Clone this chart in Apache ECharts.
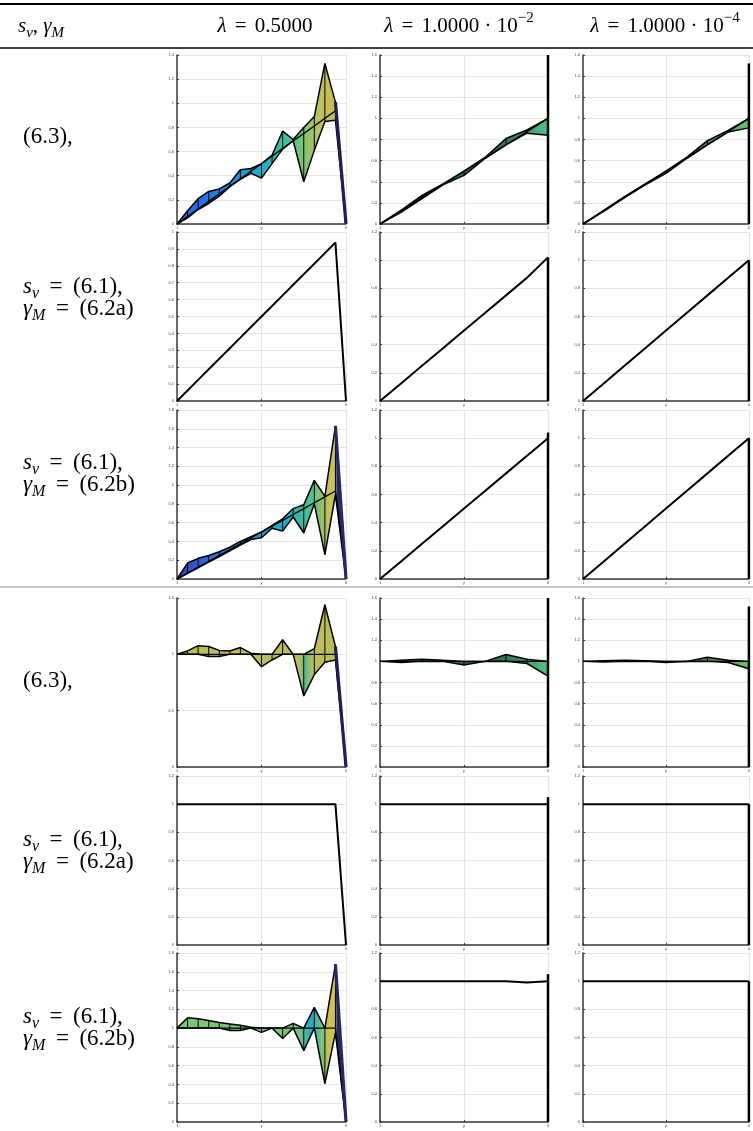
<!DOCTYPE html>
<html>
<head>
<meta charset="utf-8">
<script src="https://cdn.jsdelivr.net/npm/echarts@6/dist/echarts.min.js"></script>
<style>html,body{margin:0;padding:0;background:#fff}#c{width:753px;height:1131px}</style>
</head>
<body>
<div id="c"></div>
<script>
// ---------- data ----------
const xNodes16 = [0,0.0625,0.125,0.1875,0.25,0.3125,0.375,0.4375,0.5,0.5625,0.625,0.6875,0.75,0.8125,0.875,0.9375,1];
const xNodes8 = [0,0.125,0.25,0.375,0.5,0.625,0.75,0.875,1];
const xTickLabels = ['1','y','0'];

// row 1 (6.3) – shape of solution
const r1c1Center = [0,0.0625,0.125,0.1875,0.25,0.3125,0.375,0.4375,0.5,0.5625,0.625,0.6875,0.75,0.8125,0.875,0.9375,0];
const r1c1Upper  = [0,0.11,0.21,0.27,0.29,0.34,0.45,0.46,0.50,0.57,0.77,0.70,0.80,0.89,1.33,1.01,0];
const r1c1Lower  = [0,0.05,0.12,0.17,0.23,0.31,0.37,0.42,0.38,0.50,0.62,0.69,0.35,0.61,0.85,0.86,0];
const r1c2Center = [0,0.125,0.25,0.375,0.5,0.625,0.75,0.875,1];
const r1c2Upper  = [0,0.13,0.27,0.38,0.50,0.63,0.81,0.89,1.00];
const r1c2Lower  = [0,0.11,0.24,0.37,0.46,0.62,0.75,0.86,0.84];
const r1c2Edge   = [0,1.6];
const r1c3Center = [0,0.125,0.25,0.375,0.5,0.625,0.75,0.875,1];
const r1c3Upper  = [0,0.13,0.26,0.38,0.50,0.63,0.79,0.885,1.00];
const r1c3Lower  = [0,0.12,0.25,0.37,0.48,0.62,0.75,0.87,0.91];
const r1c3Edge   = [0,1.52];
// row 2 (6.1),(6.2a)
const r2c1Center = [0,0.0625,0.125,0.1875,0.25,0.3125,0.375,0.4375,0.5,0.5625,0.625,0.6875,0.75,0.8125,0.875,0.9375,0];
const r2c2Center = [0,0.125,0.25,0.375,0.5,0.625,0.75,0.875,1.02];
const r2c2Edge   = [0,1.02];
const r2c3Center = [0,0.125,0.25,0.375,0.5,0.625,0.75,0.875,1.0];
const r2c3Edge   = [0,1.0];
// row 3 (6.1),(6.2b)
const r3c1Center = [0,0.0625,0.125,0.1875,0.25,0.3125,0.375,0.4375,0.5,0.5625,0.625,0.6875,0.75,0.8125,0.875,0.9375,0];
const r3c1Upper  = [0,0.17,0.22,0.25,0.29,0.34,0.40,0.45,0.50,0.57,0.64,0.75,0.79,1.05,0.88,1.63,0];
const r3c1Lower  = [0,0.06,0.12,0.18,0.24,0.30,0.36,0.42,0.44,0.54,0.51,0.66,0.49,0.80,0.26,0.90,0];
const r3c2Center = [0,0.125,0.25,0.375,0.5,0.625,0.75,0.875,1.0];
const r3c2Edge   = [0,1.04];
const r3c3Center = [0,0.125,0.25,0.375,0.5,0.625,0.75,0.875,1.0];
const r3c3Edge   = [0,1.0];
// row 4 (6.3) – normalised
const r4c1Center = [1,1,1,1,1,1,1,1,1,1,1,1,1,1,1,1,0];
const r4c1Upper  = [1,1.03,1.077,1.07,1.035,1.03,1.06,1.01,1,1,1.13,1,1,1.05,1.44,1.07,0];
const r4c1Lower  = [1,1,1,0.98,0.98,1,1,1,0.89,0.95,1,1,0.63,0.82,0.93,0.95,0];
const r4c2Center = [1,1,1,1,1,1,1,1,1];
const r4c2Upper  = [1,1.01,1.02,1.01,1.0,1.0,1.065,1.02,1.0];
const r4c2Lower  = [1,0.99,1.0,1.0,0.965,1.0,1.0,0.98,0.86];
const r4c2Edge   = [0,1.6];
const r4c3Center = [1,1,1,1,1,1,1,1,1];
const r4c3Upper  = [1,1.005,1.01,1.005,1.0,1.0,1.04,1.01,1.0];
const r4c3Lower  = [1,0.995,1.0,1.0,0.99,1.0,1.0,0.99,0.93];
const r4c3Edge   = [0,1.52];
// row 5
const r5c1Center = [1,1,1,1,1,1,1,1,1,1,1,1,1,1,1,1,0];
const r5c2Center = [1,1,1,1,1,1,1,1,1];
const r5c2Edge   = [0,1.05];
const r5c3Center = [1,1,1,1,1,1,1,1,1];
const r5c3Edge   = [0,1.0];
// row 6
const r6c1Center = [1,1,1,1,1,1,1,1,1,1,1,1,1,1,1,1,0];
const r6c1Upper  = [1,1.11,1.10,1.08,1.06,1.045,1.03,1.01,1,1,1,1.05,1,1.22,1,1.68,0];
const r6c1Lower  = [1,1,1,1,1,0.975,0.975,1,0.955,1,0.89,1,0.76,1,0.41,0.95,0];
const r6c2Center = [1,1,1,1,1,1,1,0.99,1.0];
const r6c2Edge   = [0,1.05];
const r6c3Center = [1,1,1,1,1,1,1,1,1];
const r6c3Edge   = [0,1.0];

// axis ranges per panel (row-major)
const yMaxes = [1.4,1.6,1.6, 1,1.2,1.2, 1.8,1.2,1.2, 1.5,1.6,1.6, 1.2,1.2,1.2, 1.8,1.2,1.2];
const ySteps = [0.2,0.2,0.2, 0.1,0.2,0.2, 0.2,0.2,0.2, 0.5,0.2,0.2, 0.2,0.2,0.2, 0.2,0.2,0.2];

// ---------- styles ----------
const parulaMain = [[0,'#2a5ee8'],[0.3,'#1e88e0'],[0.5,'#1fb0c8'],[0.65,'#40c0a0'],[0.75,'#80c470'],[0.85,'#c0c060'],[0.935,'#c8bc50'],[0.95,'#1e1e55'],[1,'#1e1e55']];
const parulaR3 = [[0,'#3a3ac0'],[0.2,'#2a70e0'],[0.45,'#1e90e0'],[0.65,'#20b0c0'],[0.8,'#50c090'],[0.9,'#c8c058'],[0.935,'#c8c058'],[0.95,'#26266a'],[1,'#26266a']];
const oliveR4 = [[0,'#bcbc5c'],[0.72,'#bcbc5c'],[0.76,'#5ab894'],[0.8,'#bcbc5c'],[0.935,'#bcbc5c'],[0.95,'#1e1e55'],[1,'#1e1e55']];
const greenR6 = [[0,'#7cc47a'],[0.72,'#7cc47a'],[0.8,'#20a8c8'],[0.86,'#7cc47a'],[0.9,'#d0c050'],[0.935,'#d0c050'],[0.95,'#26266a'],[1,'#26266a']];
const darkGreen = [[0,'#2a7050'],[0.7,'#2a7050'],[1,'#4fc08a']];
const lightGreen = [[0,'#3a7a50'],[0.7,'#3a7a50'],[1,'#6fc070']];

const panels = [
  {x:xNodes16, c:r1c1Center, u:r1c1Upper, l:r1c1Lower, fill:parulaMain, drop:'#1e1e55'},
  {x:xNodes8, c:r1c2Center, u:r1c2Upper, l:r1c2Lower, e:r1c2Edge, fill:darkGreen},
  {x:xNodes8, c:r1c3Center, u:r1c3Upper, l:r1c3Lower, e:r1c3Edge, fill:lightGreen},
  {x:xNodes16, c:r2c1Center, thick:true},
  {x:xNodes8, c:r2c2Center, e:r2c2Edge, thick:true},
  {x:xNodes8, c:r2c3Center, e:r2c3Edge, thick:true},
  {x:xNodes16, c:r3c1Center, u:r3c1Upper, l:r3c1Lower, fill:parulaR3, drop:'#26266a'},
  {x:xNodes8, c:r3c2Center, e:r3c2Edge, thick:true},
  {x:xNodes8, c:r3c3Center, e:r3c3Edge, thick:true},
  {x:xNodes16, c:r4c1Center, u:r4c1Upper, l:r4c1Lower, fill:oliveR4, drop:'#1e1e55'},
  {x:xNodes8, c:r4c2Center, u:r4c2Upper, l:r4c2Lower, e:r4c2Edge, fill:darkGreen},
  {x:xNodes8, c:r4c3Center, u:r4c3Upper, l:r4c3Lower, e:r4c3Edge, fill:lightGreen},
  {x:xNodes16, c:r5c1Center, thick:true},
  {x:xNodes8, c:r5c2Center, e:r5c2Edge, thick:true},
  {x:xNodes8, c:r5c3Center, e:r5c3Edge, thick:true},
  {x:xNodes16, c:r6c1Center, u:r6c1Upper, l:r6c1Lower, fill:greenR6, drop:'#26266a'},
  {x:xNodes8, c:r6c2Center, e:r6c2Edge, thick:true},
  {x:xNodes8, c:r6c3Center, e:r6c3Edge, thick:true}
];

const colLeft = [177, 380, 583];
const colW = [169, 168, 168];
const rowTop = [55, 232, 410, 598, 776, 953];
const rowH = 169;

const grids = [], xAxes = [], yAxes = [], series = [];
const gridLine = {show:true, lineStyle:{color:'#e4e4e4', width:1.2}};
panels.forEach((p, k) => {
  const r = Math.floor(k/3), c = k%3;
  grids.push({left:colLeft[c], top:rowTop[r], width:colW[c], height:rowH, containLabel:false});
  xAxes.push({type:'value', gridIndex:k, min:0, max:1, interval:0.5,
    axisLine:{show:true, onZero:false, lineStyle:{color:'#3a3a3a', width:1.5}},
    axisTick:{show:true, inside:true, length:2, lineStyle:{color:'#3a3a3a'}},
    axisLabel:{fontSize:4, color:'#444', margin:2, formatter:(v)=>xTickLabels[Math.round(v*2)]},
    splitLine:gridLine});
  yAxes.push({type:'value', gridIndex:k, min:0, max:yMaxes[k], interval:ySteps[k],
    axisLine:{show:true, onZero:false, lineStyle:{color:'#3a3a3a', width:1.5}},
    axisTick:{show:true, inside:true, length:2, lineStyle:{color:'#3a3a3a'}},
    axisLabel:{fontSize:4, color:'#444', margin:3},
    splitLine:gridLine});

  if (p.u) {
    const stops = p.fill.map(s=>({offset:s[0], color:s[1]}));
    series.push({type:'custom', xAxisIndex:k, yAxisIndex:k, data:[[0]], silent:true, z:2,
      renderItem:(params, api) => {
        const pts = [];
        for (let i=0;i<p.x.length;i++) pts.push(api.coord([p.x[i], p.u[i]]));
        for (let i=p.x.length-1;i>=0;i--) pts.push(api.coord([p.x[i], p.l[i]]));
        return {type:'polygon', shape:{points:pts},
          style:{fill:new echarts.graphic.LinearGradient(0,0,1,0,stops), stroke:null}};
      }});
    // mesh verticals
    const segs = p.x.map((xv,i)=>[xv, p.l[i], p.u[i]]);
    series.push({type:'custom', xAxisIndex:k, yAxisIndex:k, data:segs, silent:true, z:4,
      renderItem:(params, api) => {
        const a = api.coord([api.value(0), api.value(1)]);
        const b = api.coord([api.value(0), api.value(2)]);
        return {type:'line', shape:{x1:a[0],y1:a[1],x2:b[0],y2:b[1]}, style:{stroke:'#000', lineWidth:1}};
      }});
    [p.u, p.l].forEach(arr => series.push({type:'line', xAxisIndex:k, yAxisIndex:k, symbol:'none', z:5, silent:true,
      data:p.x.map((xv,i)=>[xv, arr[i]]), lineStyle:{color:'#000', width:1.5}}));
    if (p.drop) {
      const n = p.x.length;
      series.push({type:'line', xAxisIndex:k, yAxisIndex:k, symbol:'none', z:6, silent:true,
        data:[[p.x[n-2], p.u[n-2]], [p.x[n-1], p.u[n-1]]], lineStyle:{color:p.drop, width:3.2}});
    }
  }
  series.push({type:'line', xAxisIndex:k, yAxisIndex:k, symbol:'none', z:5, silent:true,
    data:p.x.map((xv,i)=>[xv, p.c[i]]), lineStyle:{color:'#000', width:p.thick?2:1.3}});
  if (p.e) {
    series.push({type:'custom', xAxisIndex:k, yAxisIndex:k, data:[[1, p.e[0], p.e[1]]], silent:true, z:6,
      renderItem:(params, api) => {
        const a = api.coord([api.value(0), api.value(1)]);
        const b = api.coord([api.value(0), api.value(2)]);
        return {type:'line', shape:{x1:a[0],y1:a[1],x2:b[0],y2:b[1]}, style:{stroke:'#000', lineWidth:2.5}};
      }});
  }
});

// ---------- table text ----------
const FF = '"Liberation Serif","DejaVu Serif",serif';
function makeRich(fs, eqW) {
  return {
    n:{fontFamily:FF, fontSize:fs, lineHeight:30, verticalAlign:'middle', fill:'#000'},
    eq:{fontFamily:FF, fontSize:fs, lineHeight:30, verticalAlign:'middle', fill:'#000', width:eqW, align:'center'},
    i:{fontFamily:FF, fontSize:fs, fontStyle:'italic', lineHeight:30, verticalAlign:'middle', fill:'#000'},
    sub:{fontFamily:FF, fontSize:Math.round(fs*0.7), fontStyle:'italic', lineHeight:17, verticalAlign:'bottom', fill:'#000'},
    sup:{fontFamily:FF, fontSize:Math.round(fs*0.7), lineHeight:17, verticalAlign:'top', fill:'#000'}
  };
}
const richHead = makeRich(21, 28);
const richLab = makeRich(23, 34);
function txt(text, x, y, align, rich) {
  return {type:'text', x:x, y:y, silent:true, z:10,
    style:{text:text, rich:rich, align:align||'left', verticalAlign:'middle', fontFamily:FF, fill:'#000'}};
}
const graphics = [
  {type:'line', shape:{x1:0,y1:4,x2:753,y2:4}, style:{stroke:'#000', lineWidth:2}},
  {type:'line', shape:{x1:0,y1:48,x2:753,y2:48}, style:{stroke:'#000', lineWidth:1.5}},
  {type:'line', shape:{x1:0,y1:587,x2:753,y2:587}, style:{stroke:'#888', lineWidth:1.2}},
  txt('{i|s}{sub|v}{n|, }{i|γ}{sub|M}', 18, 26, 'left', richHead),
  txt('{i|λ}{eq|=}{n|0.5000}', 265, 26, 'center', richHead),
  txt('{i|λ}{eq|=}{n|1.0000 · 10}{sup|−2}', 459, 26, 'center', richHead),
  txt('{i|λ}{eq|=}{n|1.0000 · 10}{sup|−4}', 665, 26, 'center', richHead)
];
const labelRows = [
  ['{n|(6.3),}', 137], ['{i|s}{sub|v}{eq|=}{n|(6.1),}', 287], ['{i|γ}{sub|M}{eq|=}{n|(6.2a)}', 309],
  ['{i|s}{sub|v}{eq|=}{n|(6.1),}', 463], ['{i|γ}{sub|M}{eq|=}{n|(6.2b)}', 485],
  ['{n|(6.3),}', 681], ['{i|s}{sub|v}{eq|=}{n|(6.1),}', 840], ['{i|γ}{sub|M}{eq|=}{n|(6.2a)}', 862],
  ['{i|s}{sub|v}{eq|=}{n|(6.1),}', 1017], ['{i|γ}{sub|M}{eq|=}{n|(6.2b)}', 1039]
];
labelRows.forEach(l => graphics.push(txt(l[0], 23, l[1], 'left', richLab)));

const chart = echarts.init(document.getElementById('c'), null, {renderer:'canvas'});
chart.setOption({
  animation:false,
  backgroundColor:'#fff',
  grid:grids, xAxis:xAxes, yAxis:yAxes, series:series,
  graphic:graphics
});
</script>
</body>
</html>
